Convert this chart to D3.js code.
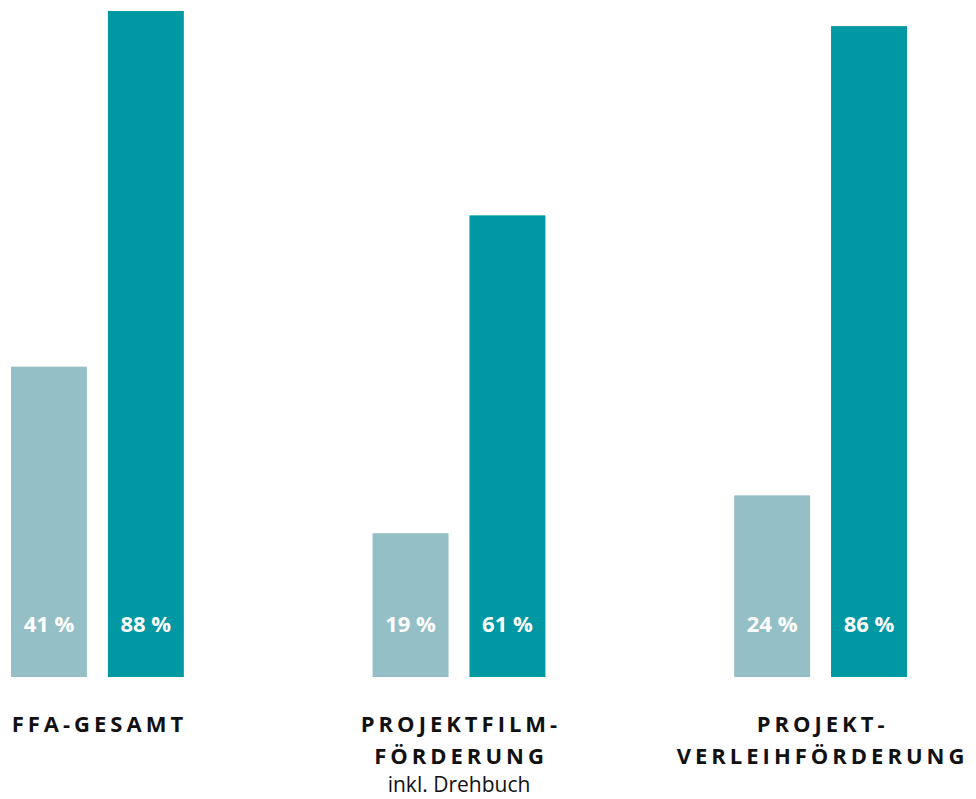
<!DOCTYPE html>
<html>
<head>
<meta charset="utf-8">
<script src="https://cdn.jsdelivr.net/npm/d3@7"></script>
<style>
  body { margin: 0; background: #fff; }
  svg { display: block; font-family: "Open Sans", "Noto Sans", sans-serif; }
</style>
</head>
<body>
<div id="chart"></div>
<script>
var width = 976, height = 799

var groups = ['FFA-GESAMT', 'PROJEKTFILM-FÖRDERUNG', 'PROJEKT-VERLEIHFÖRDERUNG']
var groupLines = [['FFA-GESAMT'], ['PROJEKTFILM-', 'FÖRDERUNG'], ['PROJEKT-', 'VERLEIHFÖRDERUNG']]
var subLines = ['', 'inkl. Drehbuch', '']
var series = ['a', 'b']
var valuesA = [41, 19, 24]
var valuesB = [88, 61, 86]
var colors = ['#94bfc6', '#0098a3']

var svg = d3.select('#chart')
    .append('svg')
    .attr('width', width)
    .attr('height', height)

var x0 = d3.scaleBand()
    .domain(groups)
    .range([11, 907])
    .paddingInner(0.522)

var x1 = d3.scaleBand()
    .domain(series)
    .range([0, x0.bandwidth()])
    .paddingInner(0.216)

var y = d3.scaleLinear()
    .domain([0, 88])
    .range([677, 11])

var data = []
groups.forEach(function(g, i) {
    data.push({ group: g, s: 'a', v: valuesA[i] })
    data.push({ group: g, s: 'b', v: valuesB[i] })
})

svg.append('g')
    .selectAll('rect')
    .data(data)
    .enter()
    .append('rect')
    .attr('x', function(d) { return x0(d.group) + x1(d.s) })
    .attr('y', function(d) { return y(d.v) })
    .attr('width', x1.bandwidth())
    .attr('height', function(d) { return y(0) - y(d.v) })
    .attr('fill', function(d) { return d.s == 'a' ? colors[0] : colors[1] })

svg.append('g')
    .selectAll('text')
    .data(data)
    .enter()
    .append('text')
    .attr('x', function(d) { return x0(d.group) + x1(d.s) + x1.bandwidth() / 2 })
    .attr('y', y(0) - 45)
    .attr('text-anchor', 'middle')
    .attr('fill', '#fff')
    .attr('font-weight', 'bold')
    .attr('font-size', '22px')
    .text(function(d) { return d.v + ' %' })

// category labels
groups.forEach(function(g, i) {
    var cx = x0(g) + x0.bandwidth() / 2
    var t = svg.append('text')
        .attr('text-anchor', 'middle')
        .attr('font-weight', 'bold')
        .attr('font-size', '22px')
        .attr('letter-spacing', '4px')
        .attr('fill', '#111')
    groupLines[i].forEach(function(line, j) {
        t.append('tspan')
            .attr('x', cx + 2)
            .attr('y', 732 + j * 32)
            .text(line)
    })
    if (subLines[i]) {
        svg.append('text')
            .attr('x', cx)
            .attr('y', 792)
            .attr('text-anchor', 'middle')
            .attr('font-size', '21px')
            .attr('fill', '#111')
            .text(subLines[i])
    }
})
</script>
</body>
</html>
